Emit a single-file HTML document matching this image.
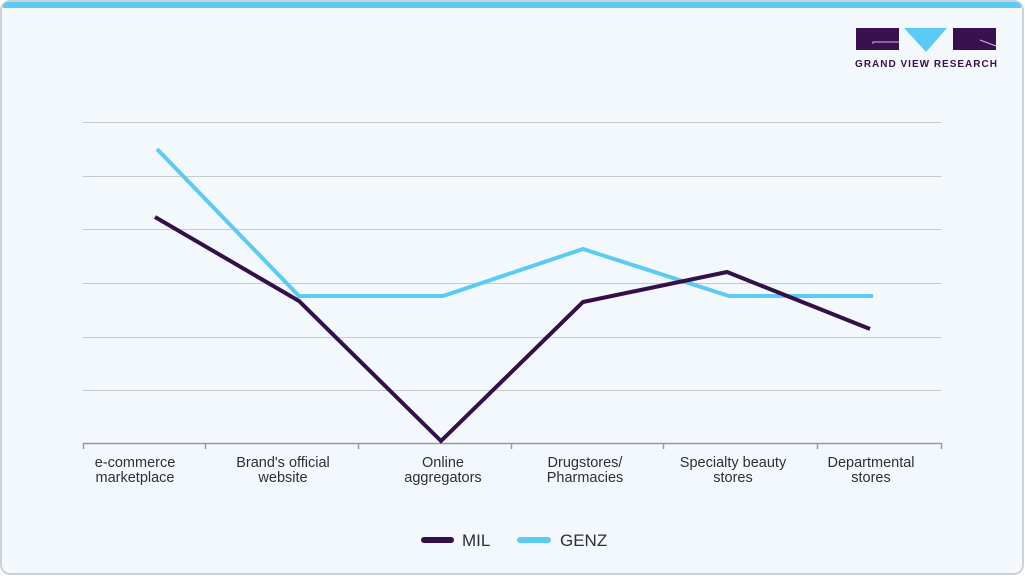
<!DOCTYPE html>
<html><head><meta charset="utf-8"><style>
html,body{margin:0;padding:0;background:#fff;}
body{width:1025px;height:576px;overflow:hidden;}
</style></head><body>
<svg width="1025" height="576" viewBox="0 0 1025 576" xmlns="http://www.w3.org/2000/svg" font-family="'Liberation Sans', sans-serif">
  <rect x="1" y="1" width="1022" height="573" rx="9" ry="9" fill="#f3f8fc" stroke="#cfd2d4" stroke-width="2"/>
  <path d="M3,8 L3,7 Q3,2 9,2 L1015,2 Q1021,2 1021,7 L1021,8 Z" fill="#5bcbf5"/>
  <!-- logo -->
  <rect x="856" y="28" width="43" height="22" fill="#3a1150"/>
  <path d="M873,44 L873,42 L899,42" stroke="#c9c1d2" stroke-width="1" fill="none"/>
  <polygon points="904,28 947,28 926,52" fill="#5bcbf5"/>
  <rect x="953" y="28" width="43" height="22" fill="#3a1150"/>
  <path d="M980,40 L996,46" stroke="#c9c1d2" stroke-width="1" fill="none"/>
  <text x="926.5" y="67" text-anchor="middle" font-size="10" font-weight="bold" fill="#3a1150" letter-spacing="1">GRAND VIEW RESEARCH</text>
  <!-- grid -->
  <g stroke="#c8cacc" stroke-width="1">
    <line x1="83" y1="122.5" x2="941" y2="122.5"/>
    <line x1="83" y1="176.5" x2="941" y2="176.5"/>
    <line x1="83" y1="229.5" x2="941" y2="229.5"/>
    <line x1="83" y1="283.5" x2="941" y2="283.5"/>
    <line x1="83" y1="337.5" x2="941" y2="337.5"/>
    <line x1="83" y1="390.5" x2="941" y2="390.5"/>
  </g>
  <g stroke="#9a9a9a" stroke-width="1.5">
    <line x1="83" y1="443.5" x2="942" y2="443.5"/>
    <line x1="83.5" y1="443" x2="83.5" y2="449"/>
    <line x1="205.5" y1="443" x2="205.5" y2="449"/>
    <line x1="358.5" y1="443" x2="358.5" y2="449"/>
    <line x1="511.5" y1="443" x2="511.5" y2="449"/>
    <line x1="663.5" y1="443" x2="663.5" y2="449"/>
    <line x1="817.5" y1="443" x2="817.5" y2="449"/>
    <line x1="941.5" y1="443" x2="941.5" y2="449"/>
  </g>
  <!-- labels -->
  <g font-size="14.5" fill="#2f2f35" text-anchor="middle">
    <text x="135" y="467">e-commerce</text><text x="135" y="482">marketplace</text>
    <text x="283" y="467">Brand's official</text><text x="283" y="482">website</text>
    <text x="443" y="467">Online</text><text x="443" y="482">aggregators</text>
    <text x="585" y="467">Drugstores/</text><text x="585" y="482">Pharmacies</text>
    <text x="733" y="467">Specialty beauty</text><text x="733" y="482">stores</text>
    <text x="871" y="467">Departmental</text><text x="871" y="482">stores</text>
  </g>
  <!-- series -->
  <polyline points="157,149 299,296 443,296 583,249 729,296 873,296" fill="none" stroke="#5bcbf5" stroke-width="4" stroke-linejoin="miter"/>
  <polyline points="155,217 299,301 441,441 583,302 727,272 870,329" fill="none" stroke="#33104a" stroke-width="4" stroke-linejoin="miter"/>
  <!-- legend -->
  <line x1="424" y1="540" x2="451" y2="540" stroke="#33104a" stroke-width="6" stroke-linecap="round"/>
  <text x="462" y="546" font-size="17" fill="#2f2f35">MIL</text>
  <line x1="520" y1="540" x2="548" y2="540" stroke="#5bcbf5" stroke-width="6" stroke-linecap="round"/>
  <text x="560" y="546" font-size="17" fill="#2f2f35">GENZ</text>
</svg>
</body></html>
